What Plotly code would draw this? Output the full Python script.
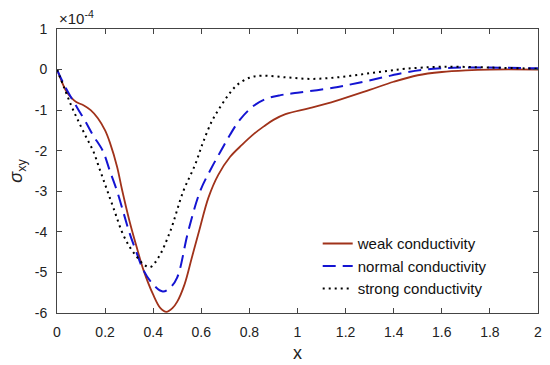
import plotly.graph_objects as go

# ---- data (units of 1e-4) ----
weak_x = [0, 0.02, 0.04, 0.06, 0.08, 0.11, 0.14, 0.17, 0.2, 0.22, 0.25, 0.27, 0.3, 0.33, 0.36, 0.4, 0.43,
          0.455, 0.48, 0.5, 0.53, 0.56, 0.59, 0.63, 0.67, 0.72, 0.77, 0.82, 0.86, 0.9, 0.95, 1.05, 1.16,
          1.3, 1.4, 1.5, 1.6, 1.7, 1.8, 2.0]
weak_y = [0, -0.3, -0.55, -0.7, -0.8, -0.88, -1.0, -1.2, -1.5, -1.8, -2.4, -2.95, -3.7, -4.35, -4.95,
          -5.55, -5.88, -5.97, -5.88, -5.72, -5.3, -4.65, -4.0, -3.15, -2.6, -2.15, -1.85, -1.58, -1.4,
          -1.24, -1.1, -0.95, -0.77, -0.5, -0.3, -0.14, -0.06, -0.02, 0.0, 0.0]

normal_x = [0, 0.03, 0.06, 0.09, 0.12, 0.15, 0.19, 0.22, 0.25, 0.28, 0.3, 0.33, 0.36, 0.4, 0.44, 0.47,
            0.5, 0.545, 0.595, 0.64, 0.68, 0.72, 0.76, 0.816, 0.87, 0.93, 1.0, 1.148, 1.25, 1.357, 1.45,
            1.565, 1.7, 2.0]
normal_y = [0, -0.38, -0.7, -1.0, -1.3, -1.62, -2.0, -2.5, -3.0, -3.6, -4.0, -4.5, -4.95, -5.3, -5.47,
            -5.38, -5.12, -4.0, -3.0, -2.45, -2.02, -1.6, -1.24, -0.9, -0.72, -0.63, -0.57, -0.45, -0.33,
            -0.19, -0.07, 0.02, 0.05, 0.03]

strong_x = [0, 0.03, 0.06, 0.088, 0.12, 0.15, 0.18, 0.21, 0.24, 0.27, 0.3, 0.33, 0.36, 0.387, 0.42,
            0.47, 0.525, 0.574, 0.607, 0.645, 0.678, 0.71, 0.747, 0.8, 0.85, 0.95, 1.05, 1.15, 1.25,
            1.35, 1.45, 1.6, 1.8, 2.0]
strong_y = [0, -0.45, -0.9, -1.26, -1.65, -2.0, -2.5, -3.0, -3.5, -4.0, -4.35, -4.6, -4.8, -4.87, -4.65,
            -4.0, -3.0, -2.35, -1.8, -1.26, -0.93, -0.65, -0.39, -0.2, -0.15, -0.19, -0.23, -0.2, -0.13,
            -0.05, 0.02, 0.07, 0.05, 0.02]

x_ticks = [0, 0.2, 0.4, 0.6, 0.8, 1, 1.2, 1.4, 1.6, 1.8, 2]
x_labels = ["0", "0.2", "0.4", "0.6", "0.8", "1", "1.2", "1.4", "1.6", "1.8", "2"]
y_ticks = [-6, -5, -4, -3, -2, -1, 0, 1]
y_labels = ["-6", "-5", "-4", "-3", "-2", "-1", "0", "1"]

FONT = "Liberation Sans, Arial, sans-serif"
AX = "#444444"

fig = go.Figure()
fig.add_trace(go.Scatter(x=weak_x, y=weak_y, mode="lines", name="weak conductivity",
                         line=dict(color="#A0321A", width=1.8, shape="spline", smoothing=1.0)))
fig.add_trace(go.Scatter(x=normal_x, y=normal_y, mode="lines", name="normal conductivity",
                         line=dict(color="#1414D2", width=2, dash="13px,7px", shape="spline", smoothing=1.0)))
fig.add_trace(go.Scatter(x=strong_x, y=strong_y, mode="lines", name="strong conductivity",
                         line=dict(color="#000000", width=2, dash="2px,4px", shape="spline", smoothing=1.0)))

axis_common = dict(showgrid=False, zeroline=False, showline=True, linecolor=AX, linewidth=1,
                   mirror="ticks", ticks="inside", ticklen=5, tickcolor=AX, automargin=False,
                   tickfont=dict(family=FONT, size=14, color="#222222"))

fig.update_layout(
    width=550, height=365,
    margin=dict(l=57, r=12, t=29, b=52, autoexpand=False),
    paper_bgcolor="white", plot_bgcolor="white",
    font=dict(family=FONT, color="#222222"),
    xaxis=dict(range=[0, 2], tickvals=x_ticks, ticktext=x_labels, ticklabelstandoff=6,
               **axis_common),
    yaxis=dict(range=[-6, 1], tickvals=y_ticks, ticktext=y_labels, ticklabelstandoff=6,
               title=dict(text="<i>σ</i><sub>xy</sub>", font=dict(family=FONT, size=18), standoff=7),
               **axis_common),
    legend=dict(x=0.542, y=0.302, xanchor="left", yanchor="top", bgcolor="rgba(0,0,0,0)",
                font=dict(family=FONT, size=15, color="#111111"), tracegroupgap=0),
    showlegend=True,
    annotations=[
        dict(text="×10<sup>-4</sup>", xref="paper", yref="paper", x=0, y=1.0,
             xanchor="left", yanchor="bottom", showarrow=False,
             font=dict(family=FONT, size=15, color="#222222")),
        dict(text="x", xref="paper", yref="paper", x=0.5, y=-0.14,
             xanchor="center", yanchor="middle", showarrow=False,
             font=dict(family=FONT, size=18, color="#222222")),
    ],
)

fig.write_html("out.html", config={"displayModeBar": False},
               post_script="document.body.style.margin='0px';")
